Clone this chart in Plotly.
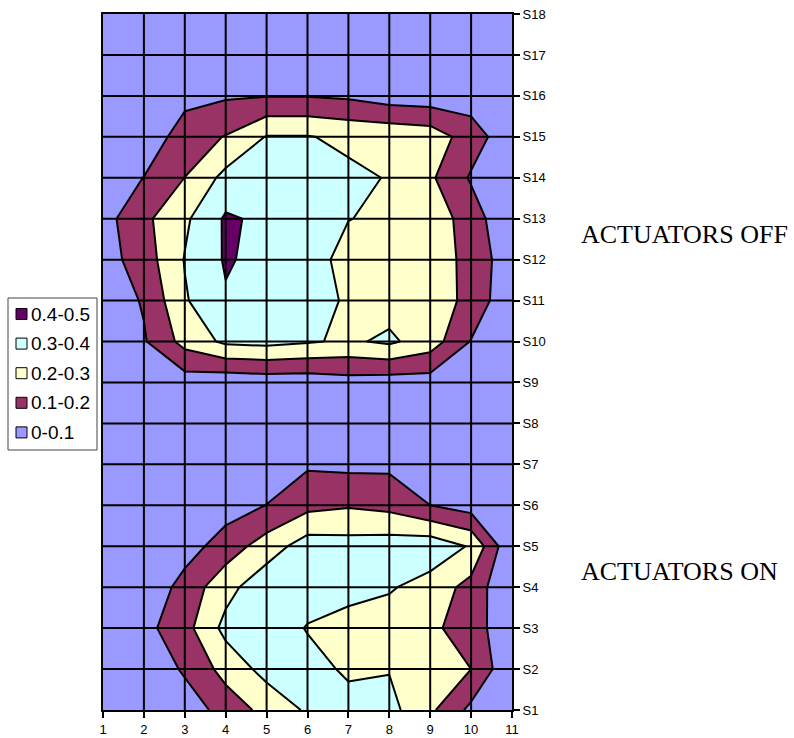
import plotly.graph_objects as go

# ---------------- data ----------------
x_vals = list(range(1, 12))                 # columns 1..11
y_vals = list(range(1, 19))                 # rows S1..S18
y_labels = [f"S{i}" for i in y_vals]

# values per row (S1 ... S18), columns 1..11
s01 = [0.00, 0.010, 0.035, 0.145, 0.229, 0.314, 0.330, 0.331, 0.220, 0.075, 0.020]
s02 = [0.00, 0.005, 0.117, 0.234, 0.335, 0.330, 0.287, 0.295, 0.260, 0.200, 0.011]
s03 = [0.01, 0.069, 0.165, 0.330, 0.350, 0.295, 0.260, 0.250, 0.226, 0.140, 0.037]
s04 = [0.00, 0.019, 0.138, 0.265, 0.370, 0.340, 0.335, 0.310, 0.260, 0.165, 0.000]
s05 = [0.00, 0.010, 0.055, 0.147, 0.247, 0.350, 0.340, 0.350, 0.364, 0.290, 0.008]
s06 = [0.00, 0.000, 0.010, 0.055, 0.102, 0.170, 0.190, 0.170, 0.100, 0.055, 0.000]
s07 = [0.00, 0.000, 0.010, 0.020, 0.030, 0.087, 0.076, 0.079, 0.040, 0.020, 0.000]
s08 = [0.00, 0.000, 0.010, 0.010, 0.010, 0.010, 0.010, 0.010, 0.010, 0.010, 0.000]
s09 = [0.00, 0.020, 0.050, 0.030, 0.040, 0.040, 0.060, 0.050, 0.055, 0.020, 0.000]
s10 = [0.02, 0.090, 0.235, 0.320, 0.330, 0.310, 0.285, 0.318, 0.251, 0.095, 0.000]
s11 = [0.03, 0.110, 0.290, 0.390, 0.370, 0.320, 0.294, 0.260, 0.250, 0.174, 0.013]
s12 = [0.056, 0.150, 0.305, 0.410, 0.370, 0.340, 0.269, 0.250, 0.240, 0.1775, 0.026]
s13 = [0.062, 0.177, 0.282, 0.413, 0.381, 0.350, 0.302, 0.285, 0.264, 0.150, 0.010]
s14 = [0.03, 0.102, 0.201, 0.330, 0.340, 0.340, 0.320, 0.295, 0.216, 0.089, 0.030]
s15 = [0.01, 0.030, 0.150, 0.205, 0.305, 0.305, 0.280, 0.273, 0.258, 0.150, 0.030]
s16 = [0.01, 0.020, 0.070, 0.088, 0.096, 0.096, 0.084, 0.051, 0.041, 0.050, 0.020]
s17 = [0.00, 0.010, 0.010, 0.020, 0.020, 0.020, 0.020, 0.020, 0.010, 0.010, 0.000]
s18 = [0.00, 0.000, 0.000, 0.000, 0.000, 0.000, 0.000, 0.000, 0.000, 0.000, 0.000]

z_rows = [s01, s02, s03, s04, s05, s06, s07, s08, s09,
          s10, s11, s12, s13, s14, s15, s16, s17, s18]

band_labels = ["0-0.1", "0.1-0.2", "0.2-0.3", "0.3-0.4", "0.4-0.5"]
band_colors = ["#9999FF", "#993366", "#FFFFCC", "#CCFFFF", "#660066"]

group_labels = ["ACTUATORS OFF", "ACTUATORS ON"]

# ---------------- figure ----------------
n = len(band_colors)
colorscale = []
for i, c in enumerate(band_colors):
    lo = max(0.0, (i - 0.5) / (n - 1))
    hi = min(1.0, (i + 0.5) / (n - 1))
    colorscale += [[lo, c], [hi, c]]

fig = go.Figure()
fig.add_trace(go.Contour(
    x=x_vals, y=y_vals, z=z_rows,
    colorscale=colorscale, showscale=False,
    autocontour=False,
    contours=dict(start=0.1, end=0.4, size=0.1, coloring="fill", showlines=True),
    line=dict(color="black", width=2, smoothing=0),
    hoverinfo="skip",
))

W, H = 794, 738
ml, mt = 103, 14
pw, ph = 409, 696
mr, mb = W - ml - pw, H - mt - ph


def px_x(p):   # p: pixel position in the page
    return (p - ml) / pw


def px_y(p):
    return (mt + ph - p) / ph


shapes = []
# grid lines drawn above the filled contours
for xv in x_vals[1:-1]:
    shapes.append(dict(type="line", xref="x", yref="y", x0=xv, x1=xv,
                       y0=y_vals[0], y1=y_vals[-1], layer="above",
                       line=dict(color="black", width=2)))
for yv in y_vals[1:-1]:
    shapes.append(dict(type="line", xref="x", yref="y", y0=yv, y1=yv,
                       x0=x_vals[0], x1=x_vals[-1], layer="above",
                       line=dict(color="black", width=2)))

# manual legend
shapes.append(dict(type="rect", xref="paper", yref="paper",
                   x0=px_x(8), x1=px_x(97), y0=px_y(450), y1=px_y(298),
                   line=dict(color="#444444", width=1), fillcolor="white"))
annotations = []
for i, (lab, col) in enumerate(zip(band_labels[::-1], band_colors[::-1])):
    cy = 314 + i * 29.6
    shapes.append(dict(type="rect", xref="paper", yref="paper",
                       x0=px_x(16), x1=px_x(27), y0=px_y(cy + 5.5), y1=px_y(cy - 5.5),
                       line=dict(color="black", width=1), fillcolor=col))
    annotations.append(dict(x=px_x(29), y=px_y(cy), xref="paper", yref="paper",
                            text=lab, showarrow=False, xanchor="left", yanchor="middle",
                            font=dict(family="Liberation Sans, Arial", size=19,
                                      color="black")))

for lab, cy in zip(group_labels, [235, 571]):
    annotations.append(dict(x=px_x(579), y=px_y(cy), xref="paper", yref="paper",
                            text=lab, showarrow=False, xanchor="left", yanchor="middle",
                            font=dict(family="Liberation Serif, Times New Roman", size=26,
                                      color="black")))

axis_common = dict(showgrid=False, zeroline=False, showline=True, linecolor="black",
                   linewidth=2, mirror=True, ticks="outside", ticklen=6,
                   tickcolor="black", tickwidth=1.5, automargin=False,
                   ticklabeloverflow="allow",
                   tickfont=dict(family="Liberation Sans, Arial", size=13, color="black"))

fig.update_layout(
    width=W, height=H,
    margin=dict(l=ml, r=mr, t=mt, b=mb, pad=0, autoexpand=False),
    paper_bgcolor="white", plot_bgcolor="white",
    showlegend=False,
    xaxis=dict(range=[x_vals[0], x_vals[-1]], tickvals=x_vals, **axis_common),
    yaxis=dict(range=[y_vals[0], y_vals[-1]], tickvals=y_vals, ticktext=y_labels,
               side="right", **axis_common),
    shapes=shapes,
    annotations=annotations,
)

fig.write_html("out.html",
               config={"displayModeBar": False},
               post_script="document.body.style.margin='0';"
                           "document.body.style.overflow='hidden';")
